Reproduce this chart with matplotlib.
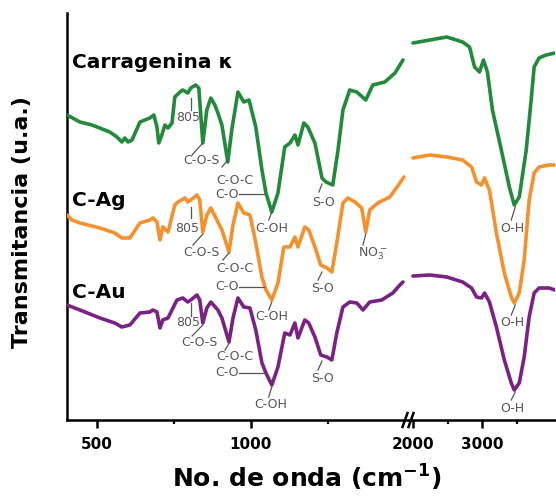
import matplotlib
matplotlib.use("Agg")
import matplotlib.pyplot as plt
from matplotlib.lines import Line2D

# ---------------- data (wavenumber cm-1, transmittance u.a. with offsets) ----------------
# Carragenina kappa (green)
carr_x_low = [403, 445, 484, 542, 565, 581, 591, 601, 614, 640, 672, 685, 695, 701, 711, 721, 731, 744,
              753, 770, 779, 795, 805, 821, 831, 844, 857, 870, 883, 893, 906, 925, 938, 958, 977, 994,
              1016, 1036, 1049, 1068, 1088, 1110, 1127, 1143, 1153, 1172, 1185, 1208, 1231, 1244, 1266,
              1283, 1299, 1321, 1344, 1373, 1396, 1435, 1468, 1494]
carr_y_low = [3.05, 2.98, 2.95, 2.88, 2.83, 2.78, 2.82, 2.78, 2.80, 2.98, 3.02, 3.05, 2.93, 2.77, 2.85,
              2.95, 2.92, 2.97, 3.23, 3.28, 3.30, 3.27, 3.32, 3.35, 3.32, 2.77, 3.10, 3.22, 3.15, 3.07,
              2.95, 2.58, 2.90, 3.28, 3.18, 3.20, 2.93, 2.50, 2.27, 2.08, 2.27, 2.73, 2.77, 2.85, 2.75,
              2.97, 2.93, 2.77, 2.42, 2.38, 2.35, 2.70, 3.10, 3.30, 3.28, 3.20, 3.35, 3.38, 3.47, 3.60]
carr_x_high = [2000, 2243, 2486, 2714, 2814, 2886, 2957, 3014, 3071, 3143, 3271, 3386, 3457, 3529,
               3629, 3700, 3743, 3814, 3914, 4043]
carr_y_high = [3.77, 3.80, 3.83, 3.78, 3.73, 3.53, 3.48, 3.60, 3.48, 3.10, 2.70, 2.33, 2.15, 2.23,
               2.70, 3.20, 3.53, 3.62, 3.65, 3.67]

# C-Ag (orange)
ag_x_low = [403, 419, 445, 510, 558, 581, 607, 640, 672, 682, 695, 705, 714, 731, 753, 763, 786, 795,
            805, 825, 834, 844, 857, 870, 893, 906, 929, 942, 958, 977, 997, 1016, 1036, 1049, 1068,
            1088, 1107, 1127, 1143, 1153, 1175, 1188, 1208, 1227, 1247, 1263, 1279, 1299, 1315, 1338,
            1360, 1373, 1386, 1412, 1451, 1484, 1497]
ag_y_low = [2.05, 2.00, 1.97, 1.92, 1.87, 1.82, 1.82, 1.97, 2.00, 2.02, 1.98, 1.80, 1.93, 1.88, 2.15,
            2.18, 2.22, 2.18, 2.20, 2.25, 2.20, 1.88, 2.05, 2.12, 1.98, 1.90, 1.68, 1.95, 2.17, 2.07,
            2.05, 1.77, 1.43, 1.30, 1.20, 1.37, 1.73, 1.73, 1.83, 1.73, 1.93, 1.90, 1.73, 1.55, 1.52,
            1.48, 1.77, 2.17, 2.22, 2.18, 2.12, 1.88, 2.10, 2.17, 2.23, 2.37, 2.43]
ag_x_high = [2000, 2243, 2486, 2714, 2843, 2914, 2986, 3029, 3100, 3200, 3314, 3414, 3457, 3529,
             3600, 3671, 3743, 3814, 3957, 4043]
ag_y_high = [2.62, 2.65, 2.63, 2.60, 2.53, 2.38, 2.35, 2.42, 2.30, 1.87, 1.47, 1.23, 1.17, 1.27,
             1.60, 2.20, 2.47, 2.53, 2.55, 2.55]

# C-Au (purple)
au_x_low = [403, 445, 510, 558, 581, 607, 640, 672, 682, 695, 705, 714, 731, 760, 779, 795, 805, 825,
            834, 844, 857, 870, 893, 906, 929, 942, 958, 977, 997, 1016, 1036, 1049, 1068, 1088, 1110,
            1127, 1143, 1153, 1175, 1188, 1208, 1227, 1247, 1263, 1279, 1299, 1321, 1344, 1364, 1386,
            1425, 1461, 1484, 1494]
au_y_low = [1.15, 1.10, 1.02, 0.97, 0.93, 0.95, 1.07, 1.08, 1.10, 1.08, 0.92, 1.00, 1.02, 1.20, 1.22,
            1.18, 1.20, 1.25, 1.20, 0.97, 1.12, 1.18, 1.10, 1.02, 0.78, 1.02, 1.22, 1.13, 1.12, 0.90,
            0.57, 0.47, 0.35, 0.53, 0.87, 0.85, 0.97, 0.82, 1.00, 0.97, 0.83, 0.65, 0.63, 0.60, 0.87,
            1.13, 1.18, 1.17, 1.10, 1.18, 1.20, 1.27, 1.35, 1.38]
au_x_high = [2000, 2243, 2486, 2714, 2843, 2914, 2986, 3029, 3100, 3200, 3314, 3414, 3457, 3529,
             3600, 3671, 3743, 3814, 3957, 4043]
au_y_high = [1.44, 1.45, 1.43, 1.38, 1.32, 1.23, 1.22, 1.27, 1.18, 0.93, 0.60, 0.37, 0.30, 0.37,
             0.63, 1.03, 1.27, 1.32, 1.32, 1.30]

series_names = ["Carragenina \u03ba", "C-Ag", "C-Au"]
left_ticks_major = [500, 1000]
left_ticks_minor = [750, 1250]
right_ticks_major = [2000, 3000]
right_ticks_minor = [2500, 3500]

# ---------------- styling ----------------
GREEN = "#23893b"
ORANGE = "#f5912d"
PURPLE = "#7a2283"
GRAY = "#555555"
LW = 2.6

W, H = 556, 500
fig = plt.figure(figsize=(W / 100, H / 100), dpi=100)
fig.patch.set_facecolor("white")

bot, top = 420, 13
ax1 = fig.add_axes([67 / W, (H - bot) / H, (407 - 67) / W, (bot - top) / H])
ax2 = fig.add_axes([409 / W, (H - bot) / H, (555 - 409) / W, (bot - top) / H], sharey=ax1)

ymin, ymax = 0.0, 4.07
ax1.set_xlim(403, 1507)
ax2.set_xlim(1943, 4043)
ax1.set_ylim(ymin, ymax)

for ax, xs, ys, c in [
    (ax1, carr_x_low, carr_y_low, GREEN), (ax1, ag_x_low, ag_y_low, ORANGE), (ax1, au_x_low, au_y_low, PURPLE),
    (ax2, carr_x_high, carr_y_high, GREEN), (ax2, ag_x_high, ag_y_high, ORANGE), (ax2, au_x_high, au_y_high, PURPLE),
]:
    ax.plot(xs, ys, color=c, lw=LW, solid_joinstyle="round", solid_capstyle="round", zorder=3)

for ax in (ax1, ax2):
    ax.set_facecolor("none")
    for s in ("top", "right"):
        ax.spines[s].set_visible(False)
    ax.spines["bottom"].set_linewidth(1.8)
    ax.tick_params(axis="x", which="major", direction="out", length=6, width=1.8,
                   labelsize=11, pad=6)
    ax.tick_params(axis="x", which="minor", direction="out", length=3, width=1.6)
    for lab in ax.get_xticklabels():
        lab.set_fontweight("bold")

ax1.spines["left"].set_linewidth(1.8)
ax2.spines["left"].set_visible(False)
ax1.set_yticks([])
ax2.tick_params(axis="y", left=False, labelleft=False)

ax1.set_xticks(left_ticks_major)
ax1.set_xticks(left_ticks_minor, minor=True)
ax2.set_xticks(right_ticks_major)
ax2.set_xticks(right_ticks_minor, minor=True)
for ax in (ax1, ax2):
    ax.set_xticklabels([str(t) for t in ax.get_xticks()], fontweight="bold", fontsize=11,
                       family="DejaVu Sans")

# break marks "//"
for x0 in (402.5, 408.5):
    fig.add_artist(Line2D([x0 / W, (x0 + 5) / W], [(H - 427) / H, (H - 413) / H],
                          color="black", lw=1.8, transform=fig.transFigure))

# series labels
for name, yv in zip(series_names, [3.58, 2.20, 1.27]):
    ax1.text(419, yv, name, ha="left", va="center", fontsize=14.5, fontweight="bold",
             family="DejaVu Sans", color="black", zorder=5)

# annotations: (axis, text, tx, ty, [x0, x1], [y0, y1])
ann = [
    (ax1, "805", 795, 3.03, [805, 805], [3.22, 3.10]),
    (ax1, "C-O-S", 841, 2.60, [809, 844], [2.65, 2.77]),
    (ax1, "C-O-C", 948, 2.40, [906, 925], [2.53, 2.60]),
    (ax1, "C-O", 922, 2.26, [961, 1042], [2.26, 2.26]),
    (ax1, "C-OH", 1068, 1.92, [1058, 1068], [2.00, 2.08]),
    (ax1, "S-O", 1237, 2.18, [1221, 1231], [2.28, 2.36]),
    (ax1, "805", 792, 1.92, [805, 805], [2.13, 2.02]),
    (ax1, "C-O-S", 841, 1.68, [812, 844], [1.75, 1.86]),
    (ax1, "C-O-C", 948, 1.52, [909, 929], [1.60, 1.67]),
    (ax1, "C-O", 922, 1.33, [961, 1042], [1.33, 1.33]),
    (ax1, "C-OH", 1068, 1.03, [1058, 1068], [1.10, 1.18]),
    (ax1, "S-O", 1234, 1.32, [1218, 1231], [1.40, 1.48]),
    (ax1, "NO$_3^-$", 1395, 1.66, [1364, 1373], [1.75, 1.86]),
    (ax1, "805", 795, 0.97, [805, 805], [1.17, 1.04]),
    (ax1, "C-O-S", 834, 0.77, [809, 844], [0.84, 0.95]),
    (ax1, "C-O-C", 948, 0.63, [916, 932], [0.70, 0.78]),
    (ax1, "C-O", 922, 0.47, [961, 1042], [0.47, 0.47]),
    (ax1, "C-OH", 1065, 0.15, [1058, 1068], [0.23, 0.33]),
    (ax1, "S-O", 1234, 0.42, [1218, 1231], [0.50, 0.59]),
    (ax2, "O-H", 3429, 1.92, [3414, 3471], [2.00, 2.13]),
    (ax2, "O-H", 3429, 0.97, [3414, 3471], [1.05, 1.15]),
    (ax2, "O-H", 3429, 0.12, [3414, 3471], [0.20, 0.28]),
]
for ax, t, tx, ty, lx, ly in ann:
    ax.plot(lx, ly, color=GRAY, lw=0.9, zorder=4)
    ax.text(tx, ty, t, ha="center", va="center", fontsize=9, color=GRAY,
            family="DejaVu Sans", zorder=5)

# axis titles
fig.text(22 / W, (H - 222) / H, "Transmitancia (u.a.)", rotation=90, ha="center", va="center",
         fontsize=16, fontweight="bold", family="DejaVu Sans")
plt.rcParams["mathtext.fontset"] = "dejavusans"
fig.text(307 / W, (H - 478) / H, r"No. de onda (cm$^{\mathbf{-1}}$)", ha="center", va="center",
         fontsize=18, fontweight="bold", family="DejaVu Sans")

fig.savefig("out.png", dpi=100, facecolor="white")
